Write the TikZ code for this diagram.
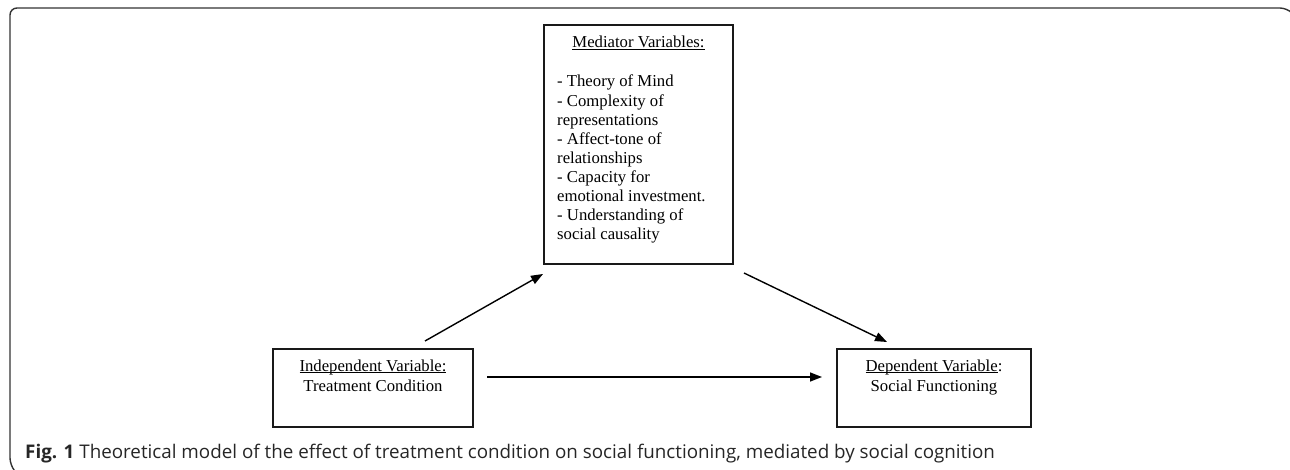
\documentclass[tikz,border=0pt]{standalone}
\usepackage{fontspec}
\setmainfont{Liberation Serif}
\newfontfamily\capfont{Open Sans}
\usetikzlibrary{arrows.meta}

\newcommand{\varhead}[1]{\underline{\smash{#1}}}

\begin{document}
\begin{tikzpicture}[x=1pt,y=-1pt,
	varbox/.style={draw=black!90,line width=1.3pt,inner sep=0pt},
	boxtext/.style={inner sep=0pt,font=\fontsize{16.7}{19.1}\selectfont},
	link/.style={line width=1.4pt,-{Triangle[length=12pt,width=9pt]}}]
	
	\useasboundingbox (0,0) rectangle (1290,470);
	
	% frame
	\draw[line width=1.4pt,black!80,rounded corners=7pt] (14,470) -- (10,465) -- (10,8) -- (1287,8) -- (1290,11);
	
	% boxes
	\node[varbox,minimum width=189pt,minimum height=239pt] (med) at (638.5,144.5) {};
	\node[varbox,minimum width=200pt,minimum height=78pt] (indep) at (373,388) {};
	\node[varbox,minimum width=194pt,minimum height=78pt] (dep) at (934,388) {};
	
	\node[boxtext,anchor=base] (medtitle) at (638.5,48) {\varhead{Mediator Variables:}};
	\node[boxtext,anchor=north west,align=left] (medlist) at (557,75) {- Theory of Mind\\- Complexity of\\representations\\- Affect-tone of\\relationships\\- Capacity for\\emotional investment.\\- Understanding of\\social causality};
	\node[boxtext,anchor=base] (indeptitle) at (373,371) {\varhead{Independent Variable:}};
	\node[boxtext,anchor=base] (indeptext) at (373,391) {Treatment Condition};
	\node[boxtext,anchor=base] (deptitle) at (934,371) {\varhead{Dependent Variable}:};
	\node[boxtext,anchor=base] (deptext) at (934,391) {Social Functioning};
	
	% arrows
	\coordinate (indepout) at (425,341);
	\coordinate (medin) at (543,274);
	\coordinate (medout) at (744,273);
	\coordinate (depin) at (887,342);
	\coordinate (hstart) at (487,377);
	\coordinate (hend) at (822,377);
	\draw[link] (indepout) -- (medin);
	\draw[link] (medout) -- (depin);
	\draw[link] (hstart) -- (hend);
	
	% caption
	\node[anchor=base west,inner sep=0pt,text=black!85,font=\capfont\fontsize{18.8}{22}\selectfont] (caption) at (25,458) {\textbf{Fig. 1} Theoretical model of the effect of treatment condition on social functioning, mediated by social cognition};
	
\end{tikzpicture}
\end{document}
